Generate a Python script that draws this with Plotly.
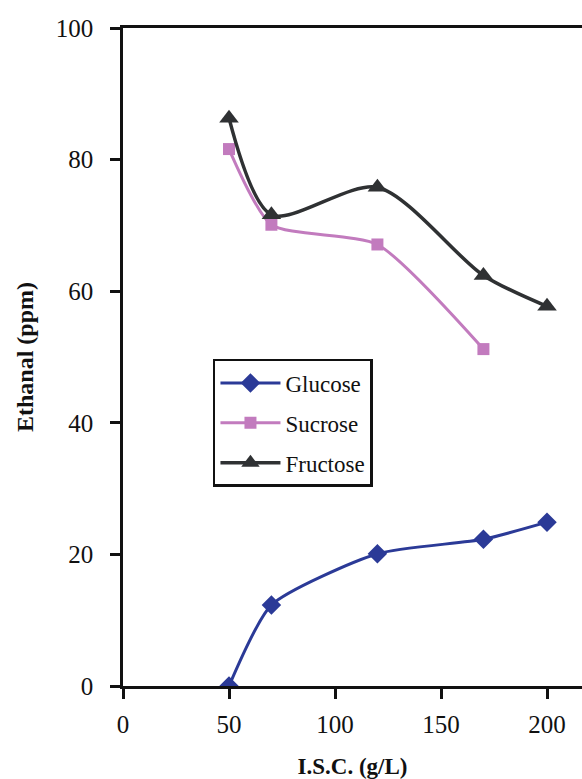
import plotly.graph_objects as go

x_vals = [50, 70, 120, 170, 200]
x_sucrose = [50, 70, 120, 170]
glucose = [0, 12.3, 20.1, 22.3, 24.9]
sucrose = [81.6, 70.1, 67.1, 51.2]
fructose = [86.3, 71.6, 75.8, 62.4, 57.7]

FONT = "Liberation Serif"

fig = go.Figure()
fig.add_trace(go.Scatter(
    x=x_vals, y=glucose, name="Glucose", mode="lines+markers",
    line=dict(color="#2B3A97", width=3, shape="spline", smoothing=0.6),
    marker=dict(symbol="diamond", size=15, color="#2B3A97"),
    legendgroup="g1"))
fig.add_trace(go.Scatter(
    x=x_sucrose, y=sucrose, name="Sucrose", mode="lines+markers",
    line=dict(color="#C27BBE", width=3, shape="spline", smoothing=0.6),
    marker=dict(symbol="square", size=12, color="#C27BBE"),
    legendgroup="g2"))
fig.add_trace(go.Scatter(
    x=x_vals, y=fructose, name="Fructose", mode="lines+markers",
    line=dict(color="#2F3133", width=3.5, shape="spline", smoothing=0.8),
    marker=dict(symbol="triangle-up", size=17, color="#2F3133"),
    legendgroup="g3"))

fig.update_layout(
    width=582, height=779,
    margin=dict(l=123, r=0, t=28, b=93),
    paper_bgcolor="white", plot_bgcolor="white",
    font=dict(family=FONT, size=25, color="#111111"),
    showlegend=True,
    legend=dict(
        x=0.196, y=0.497, xanchor="left", yanchor="top",
        bordercolor="#111111", borderwidth=2.5, bgcolor="white",
        font=dict(family=FONT, size=23, color="#111111"),
        tracegroupgap=7, itemwidth=60,
    ),
    xaxis=dict(
        range=[0, 216.5], tickvals=[0, 50, 100, 150, 200],
        showgrid=False, zeroline=False,
        showline=True, linecolor="#111111", linewidth=2.5, mirror=True,
        ticks="outside", ticklen=10, tickwidth=2.5, tickcolor="#111111",
        ticklabelstandoff=4,
        title=dict(text="<b>I.S.C. (g/L)</b>", font=dict(family=FONT, size=23), standoff=22),
    ),
    yaxis=dict(
        range=[0, 100], tickvals=[0, 20, 40, 60, 80, 100],
        showgrid=False, zeroline=False,
        showline=True, linecolor="#111111", linewidth=2.5, mirror=False,
        ticks="outside", ticklen=10, tickwidth=2.5, tickcolor="#111111",
        ticklabelstandoff=12,
        title=dict(text="<b>Ethanal (ppm)</b>", font=dict(family=FONT, size=24), standoff=16),
    ),
)

fig.write_html("out.html")
